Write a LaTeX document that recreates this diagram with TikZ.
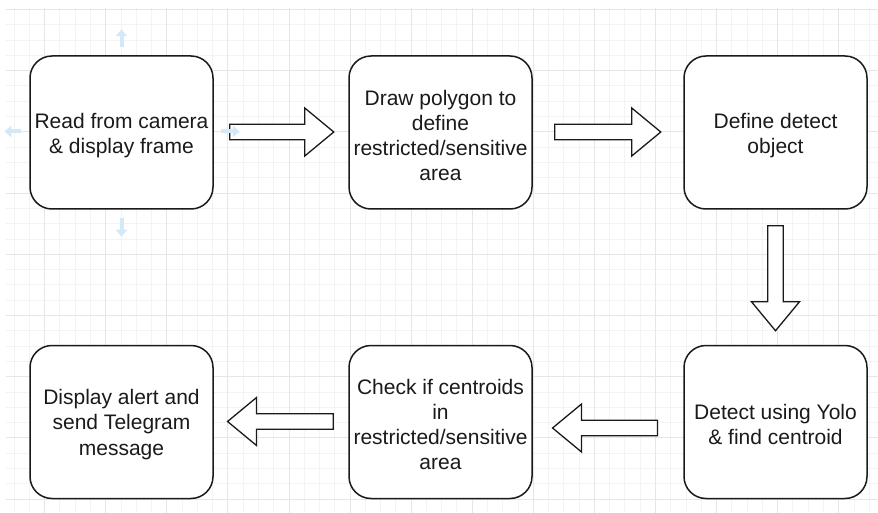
\documentclass[tikz,border=0pt]{standalone}
\usepackage{fontspec}
\setmainfont{Liberation Sans}
\usetikzlibrary{calc,arrows.meta}
\definecolor{gridminor}{HTML}{F3F3F3}
\definecolor{gridmajor}{HTML}{E6E6E6}
\definecolor{hoverblue}{HTML}{D3E9F8}
\definecolor{ink}{HTML}{1A1A1A}
\tikzset{
  stepbox/.style={draw=ink, line width=1.5pt, rounded corners=22pt, fill=white,
    minimum width=183pt, minimum height=153pt, inner sep=0pt},
  steptext/.style={inner sep=0pt, align=center, text=ink,
    font=\fontsize{21}{25.3}\selectfont},
  arrowline/.style={draw=ink, line width=1.3pt, fill=white, line join=miter},
  pics/barrow/.style={code={
    \draw[arrowline] (0,-7.7) -- ({#1-29},-7.7) -- ({#1-29},-24) -- (#1,0)
      -- ({#1-29},24) -- ({#1-29},7.7) -- (0,7.7) -- cycle;}},
  hover/.style={draw=hoverblue, line width=4pt, -{Triangle[width=11pt,length=7pt]}},
  minorline/.style={draw=gridminor, line width=1pt},
  majorline/.style={draw=gridmajor, line width=1pt}
}
\begin{document}
\begin{tikzpicture}[x=1pt,y=-1pt]
\useasboundingbox[fill=white] (0,0) rectangle (878,513);
% grid
\begin{scope}
\clip (6,8) rectangle (878,513);
\foreach \i in {0,...,57} \draw[minorline] ({14.16+15.27*\i},8) -- ({14.16+15.27*\i},513);
\foreach \j in {0,...,33} \draw[minorline] (6,{9.5+15.3*\j}) -- (878,{9.5+15.3*\j});
\foreach \i in {0,...,14} \draw[majorline] ({44.7+61.08*\i},8) -- ({44.7+61.08*\i},513);
\foreach \j in {0,...,8} \draw[majorline] (6,{9.5+61.2*\j}) -- (878,{9.5+61.2*\j});
\end{scope}
% boxes
\node[stepbox] (b1) at (121.5,132.5) {};
\node[stepbox] (b2) at (440.5,132.5) {};
\node[stepbox] (b3) at (775.5,132.5) {};
\node[stepbox] (b4) at (775.5,422) {};
\node[stepbox] (b5) at (440.5,422) {};
\node[stepbox] (b6) at (121.5,422) {};
\node[steptext] (t1) at ($(b1.center)+(0,3)$) {Read from camera\\ \& display frame};
\node[steptext] (t2) at ($(b2.center)+(0,3)$) {Draw polygon to\\ define\\ restricted/sensitive\\ area};
\node[steptext] (t3) at ($(b3.center)+(0,3)$) {Define detect\\ object};
\node[steptext] (t4) at ($(b4.center)+(0,2.5)$) {Detect using Yolo\\ \& find centroid};
\node[steptext] (t5) at ($(b5.center)+(0,2.5)$) {Check if centroids\\ in\\ restricted/sensitive\\ area};
\node[steptext] (t6) at ($(b6.center)+(0,2.5)$) {Display alert and\\ send Telegram\\ message};
% block arrows
\pic at ($(b1.east)+(16,-0.5)$) {barrow=104};
\pic at ($(b2.east)+(22,-0.5)$) {barrow=106};
\pic[rotate=-90] at ($(b3.south)+(0,16)$) {barrow=105};
\pic[rotate=180] at ($(b4.west)+(-25.7,6)$) {barrow=105};
\pic[rotate=180] at ($(b5.west)+(-15,-0.5)$) {barrow=105.7};
% hover arrows around first box
\coordinate (hu) at ($(b1.north)+(0,-8)$);
\coordinate (hd) at ($(b1.south)+(0,8)$);
\coordinate (hl) at ($(b1.west)+(-8,-1)$);
\coordinate (hr) at ($(b1.east)+(7,-1)$);
\draw[hover] (hu) -- ++(0,-18);
\draw[hover] (hd) -- ++(0,19);
\draw[hover] (hl) -- ++(-17,0);
\draw[hover] (hr) -- ++(19,0);
\end{tikzpicture}
\end{document}
